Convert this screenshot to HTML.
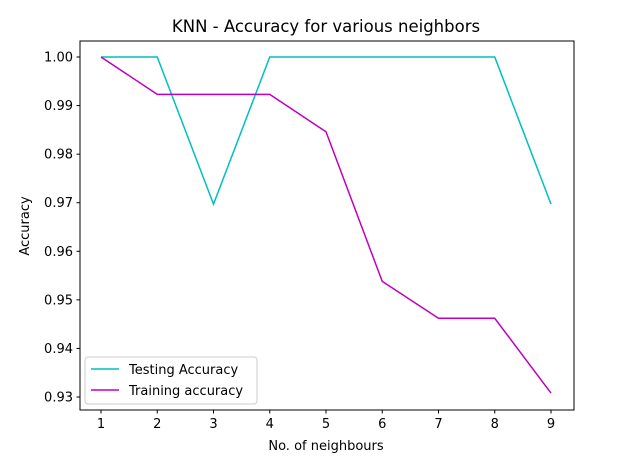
<!DOCTYPE html>
<html><head><meta charset="utf-8"><style>
body{margin:0;background:#fff;}
svg text{font-family:"DejaVu Sans","Liberation Sans",sans-serif;fill:#000;}
</style></head><body>
<svg id="chart" width="636" height="460">
<text x="326" y="32" font-size="16.5" text-anchor="middle">KNN - Accuracy for various neighbors</text>
<rect x="80" y="41" width="494" height="369" fill="none" stroke="#000" stroke-width="1"/>
<g id="xt"></g><g id="yt"></g><g id="lines"></g>
<text x="326" y="450" font-size="13" text-anchor="middle">No. of neighbours</text>
<text transform="translate(29,226) rotate(-90)" font-size="13" text-anchor="middle">Accuracy</text>
<g>
<rect x="85" y="357" width="172" height="47" rx="3" fill="#fff" stroke="#ccc"/>
<line x1="91" y1="369" x2="119" y2="369" stroke="#00bfbf" stroke-width="1.5"/>
<text x="129" y="374" font-size="13">Testing Accuracy</text>
<line x1="91" y1="390" x2="119" y2="390" stroke="#bf00bf" stroke-width="1.5"/>
<text x="129" y="395" font-size="13">Training accuracy</text>
</g>
</svg>
<script>
const neighbors=[1,2,3,4,5,6,7,8,9];
const testing=[1,1,0.9697,1,1,1,1,1,0.9697];
const training=[1,0.9923,0.9923,0.9923,0.9846,0.9538,0.9462,0.9462,0.9308];
const yTicks=[0.93,0.94,0.95,0.96,0.97,0.98,0.99,1.00];
const NS="http://www.w3.org/2000/svg";
const xs=v=>101+(v-1)*56.25;
const ys=v=>57+(1-v)*4857;
function mk(t,a,p){const e=document.createElementNS(NS,t);for(const k in a)e.setAttribute(k,a[k]);p.appendChild(e);return e;}
const xt=document.getElementById('xt'),yt=document.getElementById('yt'),lg=document.getElementById('lines');
neighbors.forEach(n=>{
 const l=mk('line',{x1:xs(n),x2:xs(n),y1:410,y2:413.5,stroke:'#000'},xt);
 
 
 const t=mk('text',{x:xs(n),y:428,'font-size':13,'text-anchor':'middle'},xt);t.textContent=n;
 
 
});
yTicks.forEach(v=>{
 const l=mk('line',{x1:76.5,x2:80,y1:ys(v),y2:ys(v),stroke:'#000'},yt);
 
 
 const t=mk('text',{x:73,y:ys(v)+4.5,'font-size':13,'text-anchor':'end'},yt);t.textContent=v.toFixed(2);
 
 
});
function line(vals,col,name){
 const p=mk('polyline',{points:vals.map((v,i)=>xs(neighbors[i])+','+ys(v)).join(' '),fill:'none',stroke:col,'stroke-width':1.5},lg);
 
 
}
line(testing,'#00bfbf','testing-accuracy-line');
line(training,'#bf00bf','training-accuracy-line');
</script>
</body></html>
